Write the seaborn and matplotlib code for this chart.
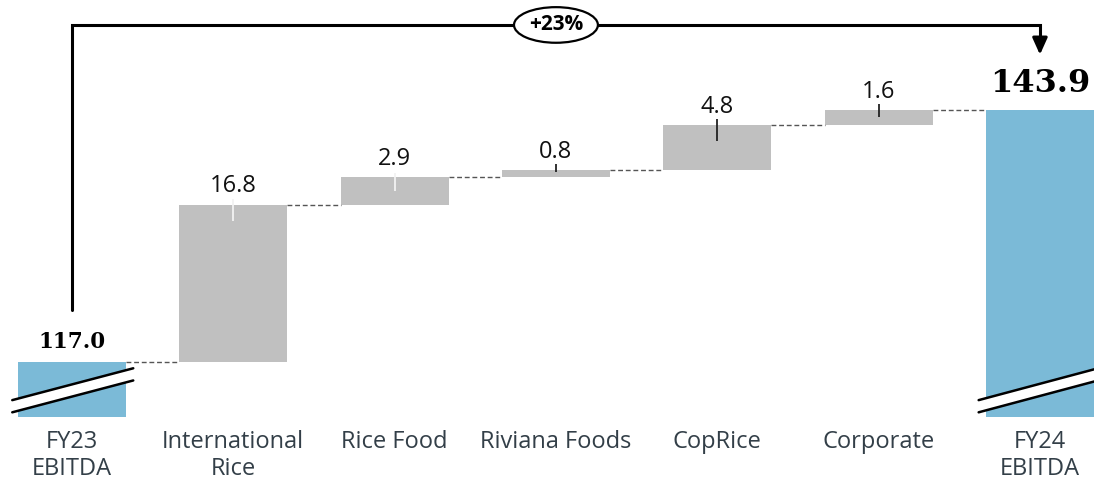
"""
EBITDA bridge FY23 to FY24.

"""
import numpy as np
import pandas as pd
import seaborn as sns
import matplotlib.pyplot as plt
from matplotlib.patches import Ellipse, Polygon

CATEGORIES = ['FY23\nEBITDA', 'International\nRice', 'Rice Food',
    'Riviana Foods', 'CopRice', 'Corporate', 'FY24\nEBITDA']
START = 117.0
END = 143.9
DELTAS = [16.8, 2.9, 0.8, 4.8, 1.6]

# little marker ticks on the step bars (offsets from bar top, value units)
TICK_HI = [0.6, 0.5, 0.6, 0.6, 0.6]
TICK_LO = [-1.7, -1.5, -0.25, -1.75, -0.7]
TICK_COLORS = ['#f2f2f2', '#f2f2f2', '#222222', '#222222', '#222222']

BLUE = '#7bbad7'
GREY = '#c0c0c0'
TEXT = '#333f48'
SANS = 'Open Sans'


def vis():
    """
    Draw the waterfall.

    """
    cum = np.cumsum([START] + DELTAS)
    bottoms = [0] + list(cum[:-1]) + [0]
    heights = [START] + DELTAS + [END]

    data = pd.DataFrame({'Category': CATEGORIES, 'Height': heights, 'Bottom': bottoms})

    sns.set_style('white')
    plt.rcParams['font.family'] = [SANS, 'DejaVu Sans']

    fig = plt.figure(figsize=(10.94, 4.83), dpi=100)
    ax = fig.add_axes([0, 66 / 483, 1, 417 / 483])

    sns.barplot(data=data, x='Category', y='Height', color=GREY,
        bottom=data['Bottom'], width=0.67, saturation=1, ax=ax, linewidth=0)
    # totals in blue
    ax.patches[0].set_facecolor(BLUE)
    ax.patches[-1].set_facecolor(BLUE)

    ymin = 111.13
    ax.set_xlim(-0.446, 6.335)
    ax.set_ylim(ymin, ymin + 417 / 9.37)
    sns.despine(ax=ax, left=True, bottom=True)
    ax.set_yticks([])
    ax.set_xlabel('')
    ax.set_ylabel('')
    ax.tick_params(axis='x', length=0, pad=9, labelsize=17, labelcolor=TEXT)
    for lab in ax.get_xticklabels():
        lab.set_linespacing(1.2)

    # dashed connectors
    levels = list(cum)
    w = 0.67 / 2
    for i, lvl in enumerate(levels):
        ax.plot([i + w, i + 1 - w], [lvl, lvl], ls=(0, (3.5, 2)), lw=1,
            color='#555555', zorder=1)

    # step labels and marker ticks
    for i, d in enumerate(DELTAS):
        top = cum[i + 1]
        ax.plot([i + 1, i + 1], [top + TICK_HI[i], top + TICK_LO[i]], lw=1.3,
            color=TICK_COLORS[i], zorder=3, solid_capstyle='butt')
        ax.text(i + 1, top + 1.3, '{:.1f}'.format(d), ha='center', va='baseline',
            fontsize=17, color='#111111')

    # totals
    ax.text(0, START + 1.45, '{:.1f}'.format(START), ha='center', va='baseline',
        fontsize=15.5, fontweight='bold', family='DejaVu Serif', color='black')
    ax.text(6, END + 1.9, '{:.1f}'.format(END), ha='center', va='baseline',
        fontsize=23, fontweight='bold', family='DejaVu Serif', color='black')

    # axis break marks on the total bars
    for x, (x0, x1) in [(0, (-0.37, 0.38)), (6, (-0.38, 0.36))]:
        up = [ymin + 1.8, ymin + 5.2]
        lo = [ymin + 0.5, ymin + 3.9]
        poly = Polygon([[x + x0, up[0]], [x + x1, up[1]], [x + x1, lo[1]], [x + x0, lo[0]]],
            closed=True, facecolor='white', edgecolor='none', zorder=4, clip_on=False)
        ax.add_patch(poly)
        ax.plot([x + x0, x + x1], up, color='black', lw=1.8, zorder=5, clip_on=False)
        ax.plot([x + x0, x + x1], lo, color='black', lw=1.8, zorder=5, clip_on=False)

    # growth bracket
    top_y = 152.97
    ax.plot([0, 0, 6, 6], [START + 5.5, top_y, top_y, 151.2], color='black', lw=2.2,
        solid_joinstyle='miter', clip_on=False, zorder=5)
    ax.annotate('', xy=(6, END + 5.9), xytext=(6, 151.4),
        arrowprops=dict(arrowstyle='-|>,head_width=0.45,head_length=1.0',
            color='black', lw=2.2, shrinkA=0, shrinkB=0), zorder=5)
    mid = (len(CATEGORIES) - 1) / 2
    ax.add_patch(Ellipse((mid, top_y), 0.52, 3.8, facecolor='white', edgecolor='black',
        lw=1.6, zorder=6, clip_on=False))
    growth = (END / START - 1) * 100
    ax.text(mid, top_y, '+{:.0f}%'.format(growth), ha='center', va='center',
        fontsize=15, fontweight='bold', color='black', zorder=7)

    plt.savefig('out.png', dpi=100)
    plt.close()

    return print('Completed visualization')


if __name__ == '__main__':

    vis()
